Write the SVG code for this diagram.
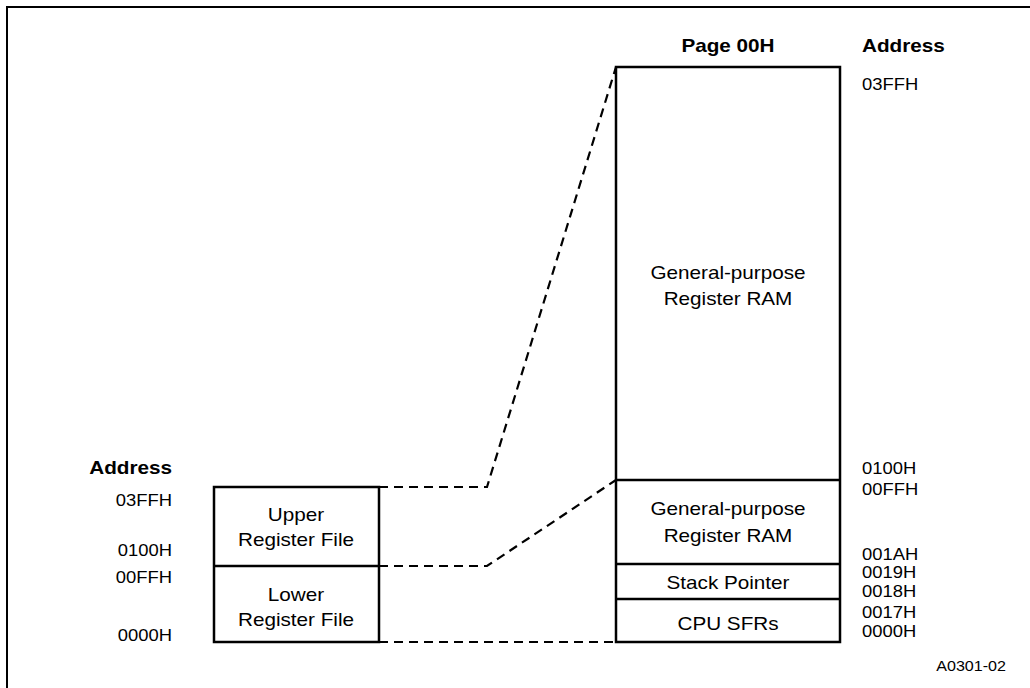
<svg xmlns="http://www.w3.org/2000/svg" width="1030" height="688" viewBox="0 0 1030 688">
<style>
.t{font-family:"Liberation Sans",Arial,sans-serif;font-size:16px;fill:#000}
.b{font-family:"Liberation Sans",Arial,sans-serif;font-size:18px;font-weight:bold;fill:#000}
.lbl{font-family:"Liberation Sans",Arial,sans-serif;font-size:18px;fill:#000;text-anchor:middle}
.box{fill:#fff;stroke:#000;stroke-width:2.5}
.div{stroke:#000;stroke-width:2.5}
.dash{fill:none;stroke:#000;stroke-width:2.2;stroke-dasharray:9 6}
.r{text-anchor:end}
</style>
<path d="M7 688 V7 H1030" fill="none" stroke="#000" stroke-width="2"/>
<g id="connectors">
<path class="dash" d="M379 487 H487 L616 67"/>
<path class="dash" d="M379 566 H487 L616 480"/>
<path class="dash" d="M379 642 H616"/>
</g>
<g id="left-register-file">
<rect class="box" x="214" y="487" width="165" height="155"/>
<line class="div" x1="214" y1="566" x2="379" y2="566"/>
<text class="lbl" transform="translate(296,521) scale(1.15,1)">Upper</text>
<text class="lbl" transform="translate(296,546) scale(1.15,1)">Register File</text>
<text class="lbl" transform="translate(296,601) scale(1.15,1)">Lower</text>
<text class="lbl" transform="translate(296,626) scale(1.15,1)">Register File</text>
</g>
<g id="left-addresses">
<text class="b r" transform="translate(172,474) scale(1.15,1)">Address</text>
<text class="t r" transform="translate(172,506) scale(1.15,1)">03FFH</text>
<text class="t r" transform="translate(172,556) scale(1.15,1)">0100H</text>
<text class="t r" transform="translate(172,583) scale(1.15,1)">00FFH</text>
<text class="t r" transform="translate(172,641) scale(1.15,1)">0000H</text>
</g>
<g id="page-00h">
<rect class="box" x="616" y="67" width="224" height="575"/>
<line class="div" x1="616" y1="480" x2="840" y2="480"/>
<line class="div" x1="616" y1="564" x2="840" y2="564"/>
<line class="div" x1="616" y1="599" x2="840" y2="599"/>
<text class="b" text-anchor="middle" transform="translate(728,52) scale(1.15,1)">Page 00H</text>
<text class="lbl" transform="translate(728,279) scale(1.15,1)">General-purpose</text>
<text class="lbl" transform="translate(728,305) scale(1.15,1)">Register RAM</text>
<text class="lbl" transform="translate(728,515) scale(1.15,1)">General-purpose</text>
<text class="lbl" transform="translate(728,542) scale(1.15,1)">Register RAM</text>
<text class="lbl" transform="translate(728,589) scale(1.15,1)">Stack Pointer</text>
<text class="lbl" transform="translate(728,630) scale(1.15,1)">CPU SFRs</text>
</g>
<g id="right-addresses">
<text class="b" transform="translate(862,52) scale(1.15,1)">Address</text>
<text class="t" transform="translate(862,90) scale(1.15,1)">03FFH</text>
<text class="t" transform="translate(862,474) scale(1.15,1)">0100H</text>
<text class="t" transform="translate(862,495) scale(1.15,1)">00FFH</text>
<text class="t" transform="translate(862,560) scale(1.15,1)">001AH</text>
<text class="t" transform="translate(862,578) scale(1.15,1)">0019H</text>
<text class="t" transform="translate(862,597) scale(1.15,1)">0018H</text>
<text class="t" transform="translate(862,618) scale(1.15,1)">0017H</text>
<text class="t" transform="translate(862,637) scale(1.15,1)">0000H</text>
</g>
<text class="t" transform="translate(1006,671) scale(1.15,1)" text-anchor="end" style="font-size:14px">A0301-02</text>
</svg>
